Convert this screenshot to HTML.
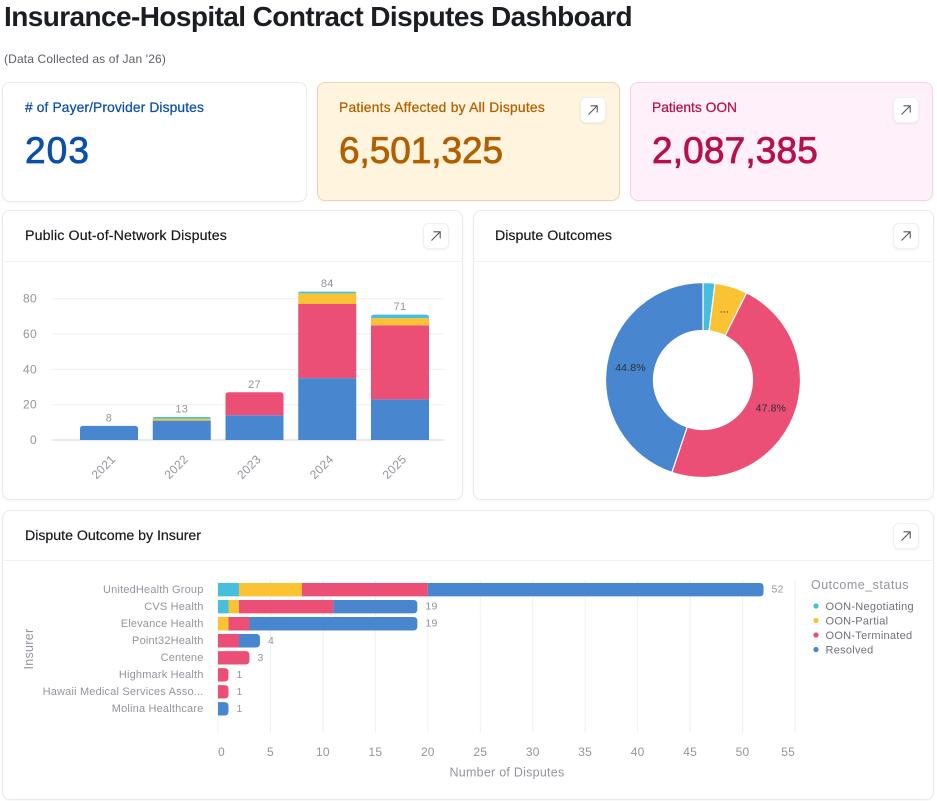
<!DOCTYPE html>
<html lang="en">
<head>
<meta charset="utf-8">
<title>Insurance-Hospital Contract Disputes Dashboard</title>
<style>
html,body{margin:0;padding:0;background:#fff;}
body{width:937px;height:801px;position:relative;overflow:hidden;font-family:"Liberation Sans",sans-serif;color:#1c1f24;}
.abs{position:absolute;white-space:nowrap;line-height:1;}
.card{position:absolute;box-sizing:border-box;border:1px solid #e9eaed;border-radius:8px;background:#fff;box-shadow:0 1px 2px rgba(20,25,40,.04);}
.rule{position:absolute;height:1px;background:#f0f1f3;}
.btn{position:absolute;box-sizing:border-box;width:26px;height:26px;border:1px solid #eff0f3;border-radius:6px;background:#fff;box-shadow:0 1px 2px rgba(20,25,40,.07);}
.btn svg{position:absolute;left:4px;top:4px;}
.lbl{font-size:13.8px;-webkit-text-stroke:.25px currentColor;}
.big{font-size:37px;-webkit-text-stroke:.8px currentColor;}
.hdr{font-size:14.2px;color:#17191d;-webkit-text-stroke:.2px currentColor;}
svg text{font-family:"Liberation Sans",sans-serif;}
</style>
</head>
<body>

<div class="abs" data-fit="628" style="left:4px;top:3px;font-size:28px;font-weight:700;color:#1a1d21;">Insurance-Hospital Contract Disputes Dashboard</div>
<div class="abs" data-fit="162" style="left:4px;top:53px;font-size:12px;color:#5b5f66;">(Data Collected as of Jan '26)</div>

<div class="card" style="left:2px;top:82px;width:305px;height:120px;"></div>
<div class="abs lbl" data-fit="179" style="left:25px;top:101px;color:#0b4fa8;"># of Payer/Provider Disputes</div>
<div class="abs big" data-fit="65" style="left:25px;top:132px;color:#0b4fa8;">203</div>

<div class="card" style="left:317px;top:82px;width:303px;height:119px;background:#fff4dd;border-color:#e6d6b4;"></div>
<div class="abs lbl" data-fit="206" style="left:339px;top:101px;color:#b25f00;">Patients Affected by All Disputes</div>
<div class="abs big" data-fit="164" style="left:339px;top:132px;color:#b25f00;">6,501,325</div>
<div class="btn" style="left:580px;top:97px;"><svg width="16" height="16" viewBox="0 0 16 16"><path d="M3.5 12.5L12 4M5.5 3.8H12.2V10.5" fill="none" stroke="#55585f" stroke-width="1.1"/></svg></div>

<div class="card" style="left:630px;top:82px;width:303px;height:119px;background:#fff0fa;border-color:#ecd6e6;"></div>
<div class="abs lbl" data-fit="85" style="left:652px;top:101px;color:#b8104c;">Patients OON</div>
<div class="abs big" data-fit="166" style="left:652px;top:132px;color:#b8104c;">2,087,385</div>
<div class="btn" style="left:893px;top:97px;"><svg width="16" height="16" viewBox="0 0 16 16"><path d="M3.5 12.5L12 4M5.5 3.8H12.2V10.5" fill="none" stroke="#55585f" stroke-width="1.1"/></svg></div>

<div class="card" style="left:2px;top:210px;width:461px;height:290px;"></div>
<div class="abs hdr" data-fit="202" style="left:25px;top:229px;">Public Out-of-Network Disputes</div>
<div class="rule" style="left:3px;top:261px;width:459px;"></div>
<div class="btn" style="left:423px;top:223px;"><svg width="16" height="16" viewBox="0 0 16 16"><path d="M3.5 12.5L12 4M5.5 3.8H12.2V10.5" fill="none" stroke="#55585f" stroke-width="1.1"/></svg></div>

<div class="card" style="left:473px;top:210px;width:461px;height:290px;"></div>
<div class="abs hdr" data-fit="117" style="left:495px;top:229px;">Dispute Outcomes</div>
<div class="rule" style="left:474px;top:261px;width:459px;"></div>
<div class="btn" style="left:893px;top:223px;"><svg width="16" height="16" viewBox="0 0 16 16"><path d="M3.5 12.5L12 4M5.5 3.8H12.2V10.5" fill="none" stroke="#55585f" stroke-width="1.1"/></svg></div>

<div class="card" style="left:2px;top:510px;width:932px;height:290px;"></div>
<div class="abs hdr" data-fit="176" style="left:25px;top:529px;">Dispute Outcome by Insurer</div>
<div class="rule" style="left:3px;top:560px;width:930px;"></div>
<div class="btn" style="left:893px;top:523px;"><svg width="16" height="16" viewBox="0 0 16 16"><path d="M3.5 12.5L12 4M5.5 3.8H12.2V10.5" fill="none" stroke="#55585f" stroke-width="1.1"/></svg></div>

<svg id="charts" width="937" height="801" viewBox="0 0 937 801" style="position:absolute;left:0;top:0;pointer-events:none;"></svg>

<script>
// ---------- shared categories ----------
const outcomeNames = ['OON-Negotiating', 'OON-Partial', 'OON-Terminated', 'Resolved'];

// ---------- yearly stacked column chart ----------
const years = ['2021', '2022', '2023', '2024', '2025'];
const yearResolved = [8, 11, 14, 35, 23];
const yearTerminated = [0, 0, 13, 42, 42];
const yearPartial = [0, 1, 0, 6, 4];
const yearNegotiating = [0, 1, 0, 1, 2];
const yearTicks = [0, 20, 40, 60, 80];

// ---------- donut chart ----------
const donutValues = [4, 11, 97, 91];

// ---------- insurer stacked bar chart ----------
const insurers = ['UnitedHealth Group', 'CVS Health', 'Elevance Health', 'Point32Health', 'Centene', 'Highmark Health', 'Hawaii Medical Services Asso...', 'Molina Healthcare'];
const insurerNegotiating = [2, 1, 0, 0, 0, 0, 0, 0];
const insurerPartial = [6, 1, 1, 0, 0, 0, 0, 0];
const insurerTerminated = [12, 9, 2, 2, 3, 1, 1, 0];
const insurerResolved = [32, 8, 16, 2, 0, 0, 0, 1];
const insurerTicks = [0, 5, 10, 15, 20, 25, 30, 35, 40, 45, 50, 55];

const palette = { 'OON-Negotiating': '#46bfdf', 'OON-Partial': '#fbc233', 'OON-Terminated': '#ec4f76', 'Resolved': '#4887cf' };
const TICK = '#92959d';
const svg = document.getElementById('charts');
const NS = 'http://www.w3.org/2000/svg';

function make(tag, props, parent) {
  const el = document.createElementNS(NS, tag);
  for (const k in props) el.setAttribute(k, props[k]);
  (parent || svg).appendChild(el);
  return el;
}
function label(str, x, y, size, fill, anchor, spacing, parent) {
  const t = make('text', { x: x, y: y, 'font-size': size, fill: fill, 'text-anchor': anchor, 'letter-spacing': spacing }, parent);
  t.textContent = str;
  return t;
}
function sum(list) { return list.reduce((a, b) => a + b, 0); }

// --- column chart ---
const colY = v => 440 - v * (141.3 / 80);
const colX = i => 109 + i * 72.75;
const colWidth = 58;
yearTicks.forEach(v => {
  const g = make('line', { x1: 52, x2: 444, y1: colY(v), y2: colY(v), stroke: v === 0 ? '#dcdee3' : '#f1f2f4', 'stroke-width': 1.2 });
  
  
  const t = label(String(v), 37, colY(v) + 4, 12, TICK, 'end', 0.3);
  
  
});
years.forEach((yr, i) => {
  const stack = [['Resolved', yearResolved[i]], ['OON-Terminated', yearTerminated[i]], ['OON-Partial', yearPartial[i]], ['OON-Negotiating', yearNegotiating[i]]].filter(s => s[1] > 0);
  let base = 0;
  const x0 = colX(i) - colWidth / 2;
  stack.forEach((s, j) => {
    const yTop = colY(base + s[1]), yBot = colY(base);
    const r = j === stack.length - 1 ? Math.min(3, yBot - yTop) : 0;
    const d = 'M' + x0 + ' ' + yBot + 'V' + (yTop + r) + 'Q' + x0 + ' ' + yTop + ' ' + (x0 + r) + ' ' + yTop +
      'H' + (x0 + colWidth - r) + 'Q' + (x0 + colWidth) + ' ' + yTop + ' ' + (x0 + colWidth) + ' ' + (yTop + r) + 'V' + yBot + 'Z';
    const p = make('path', { d: d, fill: palette[s[0]] });
    
    
    base += s[1];
  });
  const tot = label(String(base), colX(i), colY(base) - 4.5, 11, TICK, 'middle', 0.3);
  
  
  const cx = colX(i) - 5.5;
  const yl = label(yr, cx, 471, 12, TICK, 'middle', 0.3);
  yl.setAttribute('transform', 'rotate(-45 ' + cx + ' 467)');
  
  
});

// --- donut chart ---
const donutTotal = sum(donutValues);
const CX = 703, CY = 380, RO = 97.5, RI = 49.5;
function pt(r, f) {
  const a = f * 2 * Math.PI;
  return [CX + r * Math.sin(a), CY - r * Math.cos(a)];
}
let running = 0;
donutValues.forEach((v, i) => {
  const f0 = running / donutTotal, f1 = (running + v) / donutTotal;
  const big = f1 - f0 > 0.5 ? 1 : 0;
  const a = pt(RO, f0), b = pt(RO, f1), c = pt(RI, f1), e = pt(RI, f0);
  const d = 'M' + a + 'A' + RO + ' ' + RO + ' 0 ' + big + ' 1 ' + b + 'L' + c + 'A' + RI + ' ' + RI + ' 0 ' + big + ' 0 ' + e + 'Z';
  const s = make('path', { d: d, fill: palette[outcomeNames[i]], stroke: '#fff', 'stroke-width': 1.2 });
  
  
  const frac = v / donutTotal;
  if (frac >= 0.05) {
    const m = pt((RO + RI) / 2, (f0 + f1) / 2);
    const text = frac >= 0.1 ? (frac * 100).toFixed(1) + '%' : '...';
    const l = label(text, m[0], m[1] + 3, 10.5, '#2b2f36', 'middle', 0.15);
    
    
  }
  running += v;
});

// --- insurer chart ---
const barX = v => 218 + v * (577 / 55);
const barY = i => 589.7 + i * 17.02;
const barH = 13.4;
insurerTicks.forEach((v, i) => {
  const g = make('line', { x1: barX(v), x2: barX(v), y1: 580, y2: 733, stroke: '#eff0f3', 'stroke-width': 1 });
  
  
  const last = i === insurerTicks.length - 1;
  const t = label(String(v), barX(v), 756, 12, TICK, i === 0 ? 'start' : (last ? 'end' : 'middle'), 0.2);
  
  
});
insurers.forEach((nm, i) => {
  const yl = label(nm, 203.5, barY(i) + 3.2, 11, TICK, 'end', 0.18);
  
  
  const stack = [['OON-Negotiating', insurerNegotiating[i]], ['OON-Partial', insurerPartial[i]], ['OON-Terminated', insurerTerminated[i]], ['Resolved', insurerResolved[i]]].filter(s => s[1] > 0);
  let base = 0;
  const y0 = barY(i) - barH / 2;
  stack.forEach((s, j) => {
    const xa = barX(base), xb = barX(base + s[1]);
    const r = j === stack.length - 1 ? Math.min(4, xb - xa) : 0;
    const d = 'M' + xa + ' ' + y0 + 'H' + (xb - r) + 'Q' + xb + ' ' + y0 + ' ' + xb + ' ' + (y0 + r) +
      'V' + (y0 + barH - r) + 'Q' + xb + ' ' + (y0 + barH) + ' ' + (xb - r) + ' ' + (y0 + barH) + 'H' + xa + 'Z';
    const p = make('path', { d: d, fill: palette[s[0]] });
    
    
    base += s[1];
  });
  const tot = label(String(base), barX(base) + 8, barY(i) + 3, 10.5, TICK, 'start', 0.3);
  
  
});
const xTitle = label('Number of Disputes', 507, 776.5, 12.5, TICK, 'middle', 0.25);


const yTitle = label('Insurer', 33, 649, 12.5, TICK, 'middle', 0.3);
yTitle.setAttribute('transform', 'rotate(-90 33 649)');



// --- legend ---
const legTitle = label('Outcome_status', 811, 589, 12.5, TICK, 'start', 0.5);


outcomeNames.forEach((nm, i) => {
  const y = 606 + i * 14.5;
  const dot = make('circle', { cx: 816, cy: y, r: 2.6, fill: palette[nm] });
  
  
  const t = label(nm, 825.5, y + 4, 11, '#6d717a', 'start', 0.27);
  
  
});

// --- fit HTML text widths ---
document.querySelectorAll('[data-fit]').forEach(el => {
  const target = parseFloat(el.getAttribute('data-fit'));
  const w = el.getBoundingClientRect().width;
  const n = el.textContent.length;
  el.style.letterSpacing = ((target - w) / n) + 'px';
});
</script>
</body>
</html>
